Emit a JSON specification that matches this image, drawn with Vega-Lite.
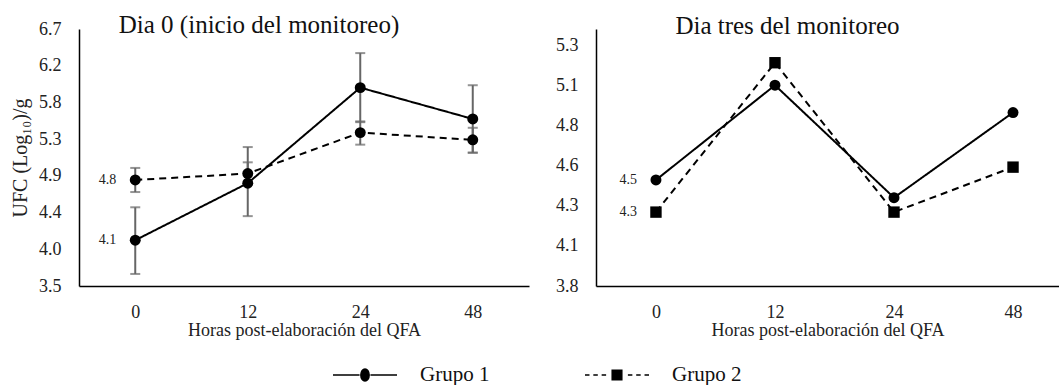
{
  "$schema": "https://vega.github.io/schema/vega-lite/v6.json",
  "padding": {"left": 10, "top": 13, "right": 0, "bottom": 0},
  "background": "white",
  "config": {
    "font": "Liberation Serif",
    "view": {"stroke": null},
    "axis": {"domainColor": "black", "domainWidth": 1.5, "ticks": false, "grid": false, "labelOverlap": false, "labelFont": "Liberation Serif", "labelFontSize": 18, "labelColor": "#222222", "titleFont": "Liberation Serif", "titleFontWeight": "normal", "titleColor": "#222222"},
    "title": {"font": "Liberation Serif", "fontSize": 25, "fontWeight": "normal", "color": "#111111"}
  },
  "resolve": {"legend": {"shape": "independent"}},
  "bounds": "flush",
  "datasets": {
    "dia0": [
      {"hora": "0", "grupo": "Grupo 1", "ufc": 4.07, "lo": 3.65, "hi": 4.48},
      {"hora": "12", "grupo": "Grupo 1", "ufc": 4.78, "lo": 4.37, "hi": 5.23},
      {"hora": "24", "grupo": "Grupo 1", "ufc": 5.97, "lo": 5.54, "hi": 6.40},
      {"hora": "48", "grupo": "Grupo 1", "ufc": 5.58, "lo": 5.16, "hi": 6.00},
      {"hora": "0", "grupo": "Grupo 2", "ufc": 4.82, "lo": 4.67, "hi": 4.97},
      {"hora": "12", "grupo": "Grupo 2", "ufc": 4.90, "lo": 4.76, "hi": 5.04},
      {"hora": "24", "grupo": "Grupo 2", "ufc": 5.41, "lo": 5.26, "hi": 5.55},
      {"hora": "48", "grupo": "Grupo 2", "ufc": 5.32, "lo": 5.16, "hi": 5.47}
    ],
    "dia3": [
      {"hora": "0", "grupo": "Grupo 1", "ufc": 4.46},
      {"hora": "12", "grupo": "Grupo 1", "ufc": 5.05},
      {"hora": "24", "grupo": "Grupo 1", "ufc": 4.35},
      {"hora": "48", "grupo": "Grupo 1", "ufc": 4.88},
      {"hora": "0", "grupo": "Grupo 2", "ufc": 4.26},
      {"hora": "12", "grupo": "Grupo 2", "ufc": 5.19},
      {"hora": "24", "grupo": "Grupo 2", "ufc": 4.26},
      {"hora": "48", "grupo": "Grupo 2", "ufc": 4.54}
    ]
  },
  "spacing": 67,
  "hconcat": [
    {
      "width": 450,
      "height": 257,
      "data": {"name": "dia0"},
      "title": {"text": "Dia 0 (inicio del monitoreo)", "frame": "group", "anchor": "middle", "baseline": "alphabetic", "offset": -5, "dx": -45, "dy": 33},
      "encoding": {
        "x": {"field": "hora", "type": "ordinal", "scale": {"type": "point", "domain": ["0", "12", "24", "48"], "padding": 0.5},
              "axis": {"title": "Horas post-elaboración del QFA", "labelAngle": 0, "labelPadding": 17, "titlePadding": 0, "titleFontSize": 18}}
      },
      "layer": [
        {
          "mark": {"type": "rule", "color": "#666666", "strokeWidth": 2},
          "encoding": {
            "y": {"field": "lo", "type": "quantitative"},
            "y2": {"field": "hi"}
          }
        },
        {
          "mark": {"type": "tick", "color": "#666666", "thickness": 2, "size": 10},
          "encoding": {"y": {"field": "lo", "type": "quantitative"}}
        },
        {
          "mark": {"type": "tick", "color": "#666666", "thickness": 2, "size": 10},
          "encoding": {"y": {"field": "hi", "type": "quantitative"}}
        },
        {
          "mark": {"type": "line", "color": "black", "strokeWidth": 2},
          "encoding": {
            "y": {"field": "ufc", "type": "quantitative"},
            "detail": {"field": "grupo"},
            "strokeDash": {"field": "grupo", "type": "nominal", "scale": {"domain": ["Grupo 1", "Grupo 2"], "range": [[1, 0], [7, 5]]}, "legend": null}
          }
        },
        {
          "mark": {"type": "point", "shape": "circle", "filled": true, "color": "black", "size": 120, "opacity": 1},
          "encoding": {
            "y": {"field": "ufc", "type": "quantitative",
                  "scale": {"domain": [3.5, 6.7], "nice": false, "zero": false},
                  "axis": {"title": "UFC (Log₁₀)/g", "titleFontSize": 20, "labelPadding": 18, "titlePadding": 8, "labelOverlap": false, "tickCount": 20,
                           "values": [3.5, 3.957142857, 4.414285714, 4.871428571, 5.328571429, 5.785714286, 6.242857143, 6.7], "format": ".1f"}}
          }
        },
        {
          "transform": [{"filter": "datum.hora == '0'"}],
          "mark": {"type": "text", "align": "right", "baseline": "middle", "dx": -19, "fontSize": 14, "font": "Liberation Serif", "color": "#222222"},
          "encoding": {
            "y": {"field": "ufc", "type": "quantitative"},
            "text": {"field": "ufc", "type": "quantitative", "format": ".1f"}
          }
        },
        {
          "transform": [{"filter": "false"}],
          "mark": {"type": "point", "fill": "black", "stroke": "black", "strokeWidth": 1.5, "opacity": 1},
          "encoding": {
            "shape": {"field": "grupo", "type": "nominal",
                      "scale": {"domain": ["Grupo 1", "Grupo 2"],
                                "range": ["M-1,0H-0.17M0.17,0H1M-0.13,0A0.13,0.19 0 1,0 0.13,0A0.13,0.19 0 1,0 -0.13,0Z",
                                          "M-1,0H-0.86M-0.74,0H-0.6M-0.48,0H-0.34M0.34,0H0.48M0.6,0H0.74M0.86,0H1M-0.15,-0.15H0.15V0.15H-0.15Z"]},
                      "legend": {"title": null, "orient": "none", "legendX": 253, "legendY": 313, "direction": "horizontal",
                                 "symbolSize": 4096, "labelFontSize": 21, "labelFont": "Liberation Serif", "labelColor": "#111111", "labelOffset": 22,
                                 "columnPadding": 92, "padding": 0,
                                 "encode": {"symbols": {"update": {"fill": {"value": "black"}, "stroke": {"value": "black"}, "strokeWidth": {"value": 1.5}, "opacity": {"value": 1}}}}}}
          }
        }
      ]
    },
    {
      "width": 463,
      "height": 257,
      "data": {"name": "dia3"},
      "title": {"text": "Dia tres del monitoreo", "frame": "group", "anchor": "middle", "baseline": "alphabetic", "offset": -5, "dx": -40, "dy": 25},
      "encoding": {
        "x": {"field": "hora", "type": "ordinal", "scale": {"type": "point", "domain": ["0", "12", "24", "48"], "padding": 0.445, "align": 0.566},
              "axis": {"title": "Horas post-elaboración del QFA", "labelAngle": 0, "labelPadding": 17, "titlePadding": 0, "titleFontSize": 18}}
      },
      "layer": [
        {
          "mark": {"type": "line", "color": "black", "strokeWidth": 2},
          "encoding": {
            "y": {"field": "ufc", "type": "quantitative",
                  "scale": {"domain": [3.8, 5.4], "nice": false, "zero": false},
                  "axis": {"title": null, "labelPadding": 18, "labelOverlap": false, "tickCount": 20, "values": [3.8, 4.0501, 4.3, 4.5501, 4.8, 5.0501, 5.3], "format": ".1f"}},
            "detail": {"field": "grupo"},
            "strokeDash": {"field": "grupo", "type": "nominal", "scale": {"domain": ["Grupo 1", "Grupo 2"], "range": [[1, 0], [7, 5]]}, "legend": null}
          }
        },
        {
          "transform": [{"filter": "datum.grupo == 'Grupo 1'"}],
          "mark": {"type": "point", "shape": "circle", "filled": true, "color": "black", "size": 120, "opacity": 1},
          "encoding": {"y": {"field": "ufc", "type": "quantitative"}}
        },
        {
          "transform": [{"filter": "datum.grupo == 'Grupo 2'"}],
          "mark": {"type": "point", "shape": "square", "filled": true, "color": "black", "size": 130, "opacity": 1},
          "encoding": {"y": {"field": "ufc", "type": "quantitative"}}
        },
        {
          "transform": [{"filter": "datum.hora == '0'"}],
          "mark": {"type": "text", "align": "right", "baseline": "middle", "dx": -19, "fontSize": 14, "font": "Liberation Serif", "color": "#222222"},
          "encoding": {
            "y": {"field": "ufc", "type": "quantitative"},
            "text": {"field": "ufc", "type": "quantitative", "format": ".1f"}
          }
        }
      ]
    }
  ]
}
